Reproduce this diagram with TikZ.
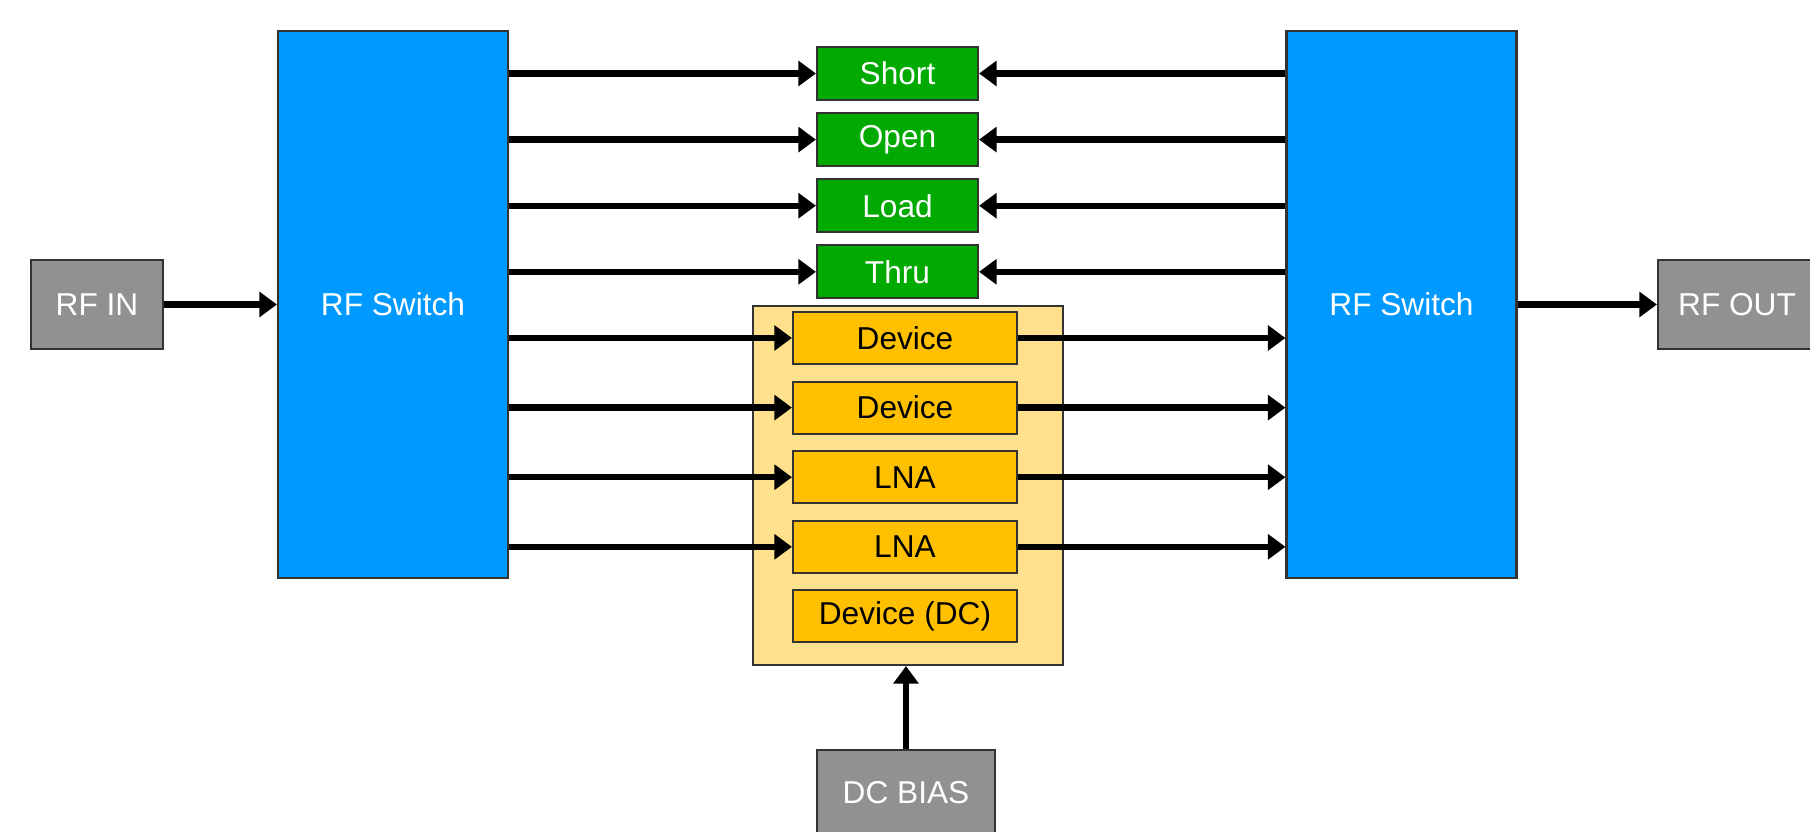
\documentclass[tikz,border=0pt]{standalone}
\usepackage{fontspec}
\setmainfont{Liberation Sans}
\usetikzlibrary{arrows.meta, positioning}

\definecolor{swblue}{RGB}{0,153,255}
\definecolor{calgreen}{RGB}{0,170,0}
\definecolor{dutyellow}{RGB}{255,192,0}
\definecolor{boardyellow}{RGB}{255,224,140}
\definecolor{portgray}{RGB}{145,145,145}

\begin{document}
\begin{tikzpicture}[
    font=\fontsize{9}{11}\selectfont,
    every node/.style={rectangle, draw=black!80, line width=0.6pt, inner sep=0pt},
    port/.style={fill=portgray, text=white, minimum width=1.32cm, minimum height=0.89cm},
    switch/.style={fill=swblue, text=white, minimum width=2.30cm, minimum height=5.47cm},
    cal/.style={fill=calgreen, text=white, minimum width=1.61cm, minimum height=0.53cm},
    dut/.style={fill=dutyellow, minimum width=2.24cm, minimum height=0.52cm},
    link/.style={->, line width=1.8pt},
    >={Triangle[length=5pt,width=7pt]}
]
\useasboundingbox (0,0) rectangle (18.10,-8.32);

% ports and switches
\node[port] (rfin) at (0.97,-3.045) {RF IN};
\node[switch] (swin) at (3.93,-3.045) {RF Switch};
\node[switch] (swout) at (14.015,-3.045) {RF Switch};
\node[port, minimum width=1.58cm] (rfout) at (17.37,-3.045) {RF OUT};

% calibration standards
\node[cal] (short) at (8.975,-0.735) {Short};
\node[cal, below=0.11cm of short] (open) {Open};
\node[cal, below=0.11cm of open] (load) {Load};
\node[cal, below=0.11cm of load] (thru) {Thru};

% devices on the board
\node[fill=boardyellow, minimum width=3.10cm, minimum height=3.59cm] (board) at (9.08,-4.855) {};
\node[dut] (dev1) at (9.05,-3.38) {Device};
\node[dut, below=0.155cm of dev1] (dev2) {Device};
\node[dut, below=0.155cm of dev2] (lna1) {LNA};
\node[dut, below=0.155cm of lna1] (lna2) {LNA};
\node[dut, below=0.155cm of lna2] (devdc) {Device (DC)};

\node[port, minimum width=1.78cm, minimum height=0.86cm] (bias) at (9.06,-7.93) {DC BIAS};

% connections
\draw[link] (rfin) -- (swin);
\draw[link] (swout) -- (rfout);
\foreach \c in {short,open,load,thru} {
    \draw[link] (swin.east |- \c) -- (\c.west);
    \draw[link] (swout.west |- \c) -- (\c.east);
}
\foreach \d in {dev1,dev2,lna1,lna2} {
    \draw[link] (swin.east |- \d) -- (\d.west);
    \draw[link] (\d.east) -- (swout.west |- \d);
}
\draw[link] (bias) -- (bias |- board.south);
\end{tikzpicture}
\end{document}
